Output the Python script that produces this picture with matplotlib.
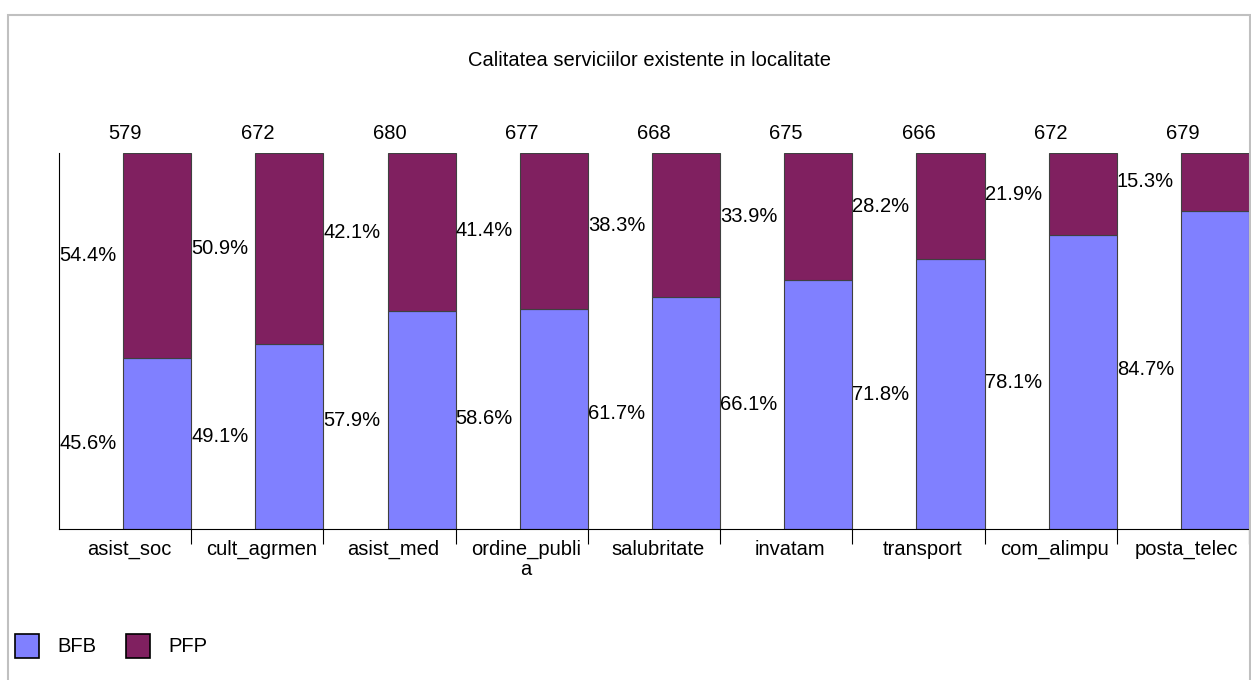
"""Calitatea serviciilor existente in localitate - 100% stacked bars."""

import matplotlib
matplotlib.use('Agg')
import matplotlib.pyplot as plt
from matplotlib.patches import Rectangle
import numpy as np

plt.rcParams['font.family'] = ['Liberation Sans', 'DejaVu Sans']

categories = ['asist_soc', 'cult_agrmen', 'asist_med', 'ordine_publi\na',
              'salubritate', 'invatam', 'transport', 'com_alimpu',
              'posta_telec']
totals = [579, 672, 680, 677, 668, 675, 666, 672, 679]
bfb = [45.6, 49.1, 57.9, 58.6, 61.7, 66.1, 71.8, 78.1, 84.7]
pfp = [54.4, 50.9, 42.1, 41.4, 38.3, 33.9, 28.2, 21.9, 15.3]

col_bfb = '#8080ff'
col_pfp = '#802060'
fs = 14.5

W, H = 1251, 680
fig = plt.figure(figsize=(W / 100, H / 100), dpi=100, facecolor='white')

# Gray outer frame (bottom edge runs off the picture).
fig.patches.append(Rectangle((8 / W, 1 - 700 / H), 1242 / W, 685 / H,
                             transform=fig.transFigure, fill=False,
                             edgecolor='#c0c0c0', linewidth=1.5))

ax = fig.add_axes([59 / W, 1 - 529 / H, 1190 / W, 376 / H])
n = len(categories)
x = np.arange(n)
bw = 0.515
left = x + 1 - bw

ax.bar(left, bfb, width=bw, align='edge', color=col_bfb,
       edgecolor='#404040', linewidth=0.8)
ax.bar(left, pfp, width=bw, bottom=bfb, align='edge', color=col_pfp,
       edgecolor='#404040', linewidth=0.8)

for i in range(n):
    ax.text(x[i], bfb[i] / 2, f'{bfb[i]:.1f}%', ha='left', va='center',
            fontsize=fs)
    ax.text(x[i], bfb[i] + pfp[i] / 2, f'{pfp[i]:.1f}%', ha='left',
            va='center', fontsize=fs)
    ax.text(x[i] + 0.5, 105.2, str(totals[i]), ha='center', va='center',
            fontsize=fs)

ax.set_xlim(0, n)
ax.set_ylim(0, 100)
ax.set_yticks([])
ax.set_xticks(np.arange(1, n + 1))
ax.set_xticklabels([])
ax.tick_params(axis='x', direction='out', length=11, width=0.8)
ax.set_xticks(x + 0.53, minor=True)
ax.set_xticklabels(categories, minor=True, fontsize=fs, linespacing=1.05)
ax.tick_params(axis='x', which='minor', length=0, pad=8)
for side in ['top', 'right']:
    ax.spines[side].set_visible(False)
for side in ['left', 'bottom']:
    ax.spines[side].set_linewidth(0.8)

fig.text(649 / W, 1 - 61 / H, 'Calitatea serviciilor existente in localitate',
         ha='center', va='center', fontsize=fs)

# Legend drawn by hand at the bottom left.
for x0, col, lab in [(15, col_bfb, 'BFB'), (126, col_pfp, 'PFP')]:
    fig.patches.append(Rectangle((x0 / W, 1 - 658 / H), 24 / W, 24 / H,
                                 transform=fig.transFigure, facecolor=col,
                                 edgecolor='black', linewidth=1.2))
    fig.text((x0 + 42) / W, 1 - 646 / H, lab, ha='left', va='center',
             fontsize=fs)

fig.savefig('out.png', dpi=100, facecolor='white')
